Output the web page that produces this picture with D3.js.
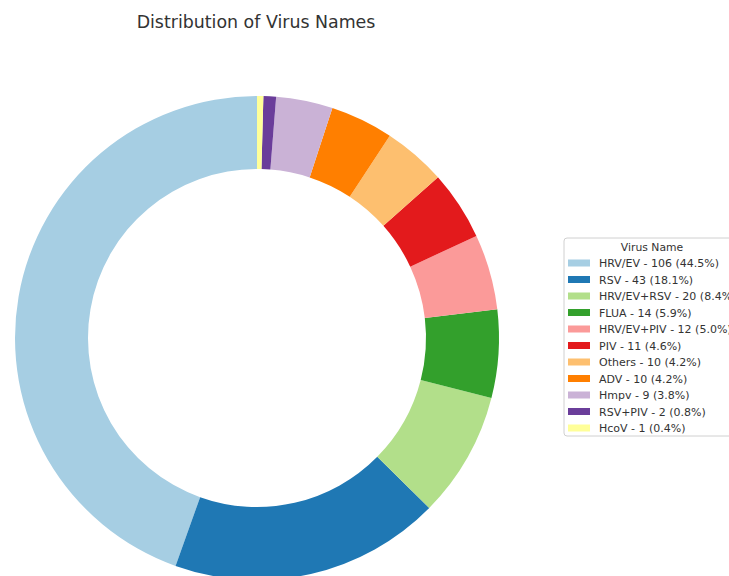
<!DOCTYPE html>
<html>
<head>
<meta charset="utf-8">
<script src="https://cdn.jsdelivr.net/npm/d3@7"></script>
<style>
  html, body { margin: 0; padding: 0; background: #fff; }
  svg { display: block; font-family: "DejaVu Sans", sans-serif; }
</style>
</head>
<body>
<svg id="chart" width="729" height="576"></svg>
<script>
// Virus name counts
const categories = ["HRV/EV", "RSV", "HRV/EV+RSV", "FLUA", "HRV/EV+PIV", "PIV", "Others", "ADV", "Hmpv", "RSV+PIV", "HcoV"];
const counts = [106, 43, 20, 14, 12, 11, 10, 10, 9, 2, 1];
const colors = ["#a6cee3", "#1f78b4", "#b2df8a", "#33a02c", "#fb9a99", "#e31a1c", "#fdbf6f", "#ff7f00", "#cab2d6", "#6a3d9a", "#ffff99"];

const svg = d3.select("#chart");
const total = d3.sum(counts);
const data = categories.map((c, i) => ({ name: c, value: counts[i] }));

const cx = 257, cy = 338, outerR = 242, innerR = 169;
const color = d3.scaleOrdinal().domain(categories).range(colors);

// Slices start at 12 o'clock and run counter-clockwise
const pie = d3.pie().value(d => d.value).sort(null)
  .startAngle(0).endAngle(-2 * Math.PI);
const arc = d3.arc().innerRadius(innerR).outerRadius(outerR);

svg.append("g")
  .attr("transform", `translate(${cx},${cy})`)
  .selectAll("path")
  .data(pie(data))
  .join("path")
  .attr("d", arc)
  .attr("fill", d => color(d.data.name));

svg.append("text")
  .attr("x", 256).attr("y", 28)
  .attr("text-anchor", "middle")
  .attr("font-size", 17.4)
  .attr("fill", "#333")
  .text("Distribution of Virus Names");

// Legend
const lg = svg.append("g").attr("transform", "translate(564,238)");
lg.append("rect")
  .attr("x", 0).attr("y", 0).attr("width", 190).attr("height", 198)
  .attr("rx", 3)
  .attr("fill", "#fff").attr("stroke", "#d0d0d0").attr("stroke-width", 1);
lg.append("text")
  .attr("x", 88).attr("y", 12.5)
  .attr("text-anchor", "middle")
  .attr("font-size", 10.8).attr("fill", "#333")
  .text("Virus Name");

const fmt = d3.format(".1f");
const items = lg.selectAll("g.item").data(data).join("g")
  .attr("class", "item")
  .attr("transform", (d, i) => `translate(0,${25 + i * 16.5})`);
items.append("rect")
  .attr("x", 4).attr("y", -3.5).attr("width", 22).attr("height", 7)
  .attr("fill", d => color(d.name));
items.append("text")
  .attr("x", 35).attr("y", 4)
  .attr("font-size", 11).attr("fill", "#333")
  .text(d => `${d.name} - ${d.value} (${fmt(d.value / total * 100)}%)`);
</script>
</body>
</html>
